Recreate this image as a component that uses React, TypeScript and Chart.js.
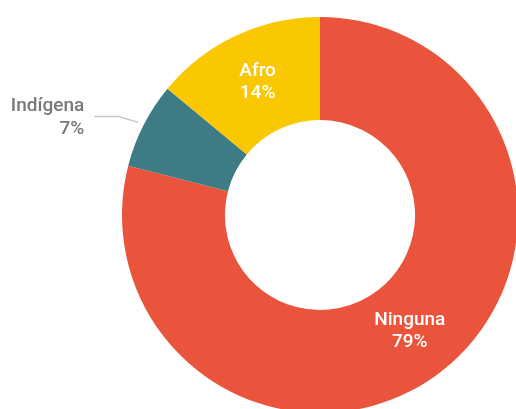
import React, { useEffect, useRef } from "react";
import { Chart, registerables } from "chart.js";

Chart.register(...registerables);

const categories = ["Ninguna", "Indígena", "Afro"];
const values = [79, 7, 14];
const valueLabels = ["79%", "7%", "14%"];
const colors = ["#EA543C", "#3E7C85", "#FAC800"];

const labelPlugin = {
  id: "sliceLabels",
  afterDatasetsDraw(chart: any) {
    const ctx = chart.ctx;
    const meta = chart.getDatasetMeta(0);
    ctx.save();
    meta.data.forEach((arc: any, i: number) => {
      const mid = (arc.startAngle + arc.endAngle) / 2;
      const cx = arc.x;
      const cy = arc.y;
      if (i === 1) {
        const r0 = arc.outerRadius + 6;
        const sx = cx + Math.cos(mid) * r0;
        const sy = cy + Math.sin(mid) * r0;
        const ex = sx - 20;
        const ey = sy - 6;
        ctx.strokeStyle = "#C4C4C4";
        ctx.lineWidth = 1.5;
        ctx.beginPath();
        ctx.moveTo(sx, sy);
        ctx.lineTo(ex, ey);
        ctx.lineTo(ex - 24, ey);
        ctx.stroke();
        ctx.fillStyle = "#787878";
        ctx.font = "500 19px Roboto";
        ctx.textAlign = "right";
        ctx.textBaseline = "middle";
        ctx.fillText(categories[i], ex - 34, ey - 10.5);
        ctx.fillText(valueLabels[i], ex - 34, ey + 12.5);
      } else {
        const r = (arc.innerRadius + arc.outerRadius) / 2;
        const x = cx + Math.cos(mid) * r;
        const y = cy + Math.sin(mid) * r;
        ctx.fillStyle = "#FFFFFF";
        ctx.font = "500 19px Roboto";
        ctx.textAlign = "center";
        ctx.textBaseline = "middle";
        ctx.fillText(categories[i], x, y - 11);
        ctx.fillText(valueLabels[i], x, y + 11);
      }
    });
    ctx.restore();
  },
};

export default function App() {
  const ref = useRef<HTMLCanvasElement | null>(null);
  useEffect(() => {
    if (!ref.current) return;
    const chart = new Chart(ref.current, {
      type: "doughnut",
      data: {
        labels: categories,
        datasets: [
          {
            data: values,
            backgroundColor: colors,
            borderWidth: 0,
          },
        ],
      },
      options: {
        animation: false,
        responsive: false,
        cutout: "48%",
        layout: { padding: { left: 122, right: 2, top: 17, bottom: 7 } },
        plugins: {
          legend: { display: false },
          tooltip: { enabled: false },
        },
      },
      plugins: [labelPlugin],
    });
    return () => chart.destroy();
  }, []);
  return (
    <div
      style={{
        position: "fixed",
        left: 0,
        top: 0,
        width: 516,
        height: 409,
        overflow: "hidden",
        background: "#fff",
      }}
    >
      <canvas
        ref={ref}
        width={520}
        height={420}
        style={{ position: "absolute", left: 0, top: 0, width: 520, height: 420 }}
      />
    </div>
  );
}
